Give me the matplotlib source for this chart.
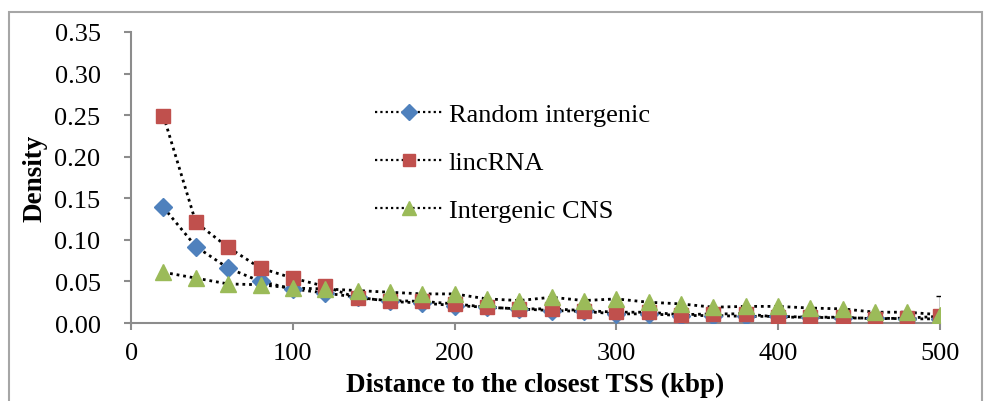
import numpy as np
import matplotlib.pyplot as plt
from matplotlib.patches import Rectangle

plt.rcParams['font.family'] = ['Liberation Serif', 'DejaVu Serif']

# Distance to closest TSS (kbp)
distancia = [20, 40, 60, 80, 100, 120, 140, 160, 180, 200, 220, 240, 260,
             280, 300, 320, 340, 360, 380, 400, 420, 440, 460, 480, 500]

random_intergenic = [0.139, 0.092, 0.066, 0.050, 0.041, 0.036, 0.031, 0.026, 0.024,
                     0.021, 0.019, 0.017, 0.015, 0.014, 0.011, 0.011, 0.009, 0.009,
                     0.008, 0.008, 0.007, 0.006, 0.006, 0.005, 0.005]
random_erro = [0.003, 0.003, 0.003, 0.002, 0.002, 0.002, 0.002, 0.002, 0.002,
               0.002, 0.002, 0.002, 0.002, 0.002, 0.002, 0.002, 0.002, 0.002,
               0.002, 0.002, 0.002, 0.002, 0.002, 0.002, 0.027]

lincrna = [0.249, 0.121, 0.091, 0.066, 0.054, 0.044, 0.030, 0.027, 0.026,
           0.023, 0.019, 0.017, 0.017, 0.015, 0.013, 0.013, 0.010, 0.011,
           0.011, 0.007, 0.007, 0.007, 0.005, 0.006, 0.008]

cns = [0.061, 0.054, 0.047, 0.046, 0.042, 0.041, 0.039, 0.037, 0.035,
       0.035, 0.029, 0.027, 0.031, 0.027, 0.029, 0.025, 0.023, 0.019,
       0.020, 0.020, 0.018, 0.017, 0.013, 0.013, 0.010]

series = [
    ('Random intergenic', random_intergenic, 'D', '#4F81BD', 9),
    ('lincRNA', lincrna, 's', '#C0504D', 10),
    ('Intergenic CNS', cns, '^', '#9BBB59', 11),
]

fig = plt.figure(figsize=(9.86, 4.02), dpi=100)
ax = fig.add_axes([0.133, 0.194, 0.820, 0.724])

# moldura da figura
fig.patches.append(Rectangle((0.009, -0.1), 0.987, 1.067, transform=fig.transFigure,
                             fill=False, edgecolor='#A6A6A6', lw=1.5, zorder=0))

pontilhado = (0, (1, 1.4))
handles = []
for nome, valores, marcador, cor, ms in series:
    ax.plot(distancia, valores, color='black', ls=pontilhado, lw=2, zorder=2)
    if nome == 'Random intergenic':
        ax.errorbar(distancia, valores, yerr=random_erro, fmt='none', ecolor='black',
                    elinewidth=1, capsize=3, capthick=1, zorder=3)
    ax.plot(distancia, valores, ls='none', marker=marcador, ms=ms, color=cor,
            markeredgecolor=cor, zorder=4)
    h, = ax.plot([], [], color='black', ls=pontilhado, lw=1.6, marker=marcador,
                 ms=ms - 1, markerfacecolor=cor, markeredgecolor=cor)
    handles.append((h, nome))

ax.set_xlim(0, 500)
ax.set_ylim(0, 0.35)
ax.set_xticks(np.arange(0, 501, 100))
ax.set_yticks(np.arange(0, 0.351, 0.05))
ax.set_yticklabels([f'{v:.2f}' for v in np.arange(0, 0.351, 0.05)])

for lado in ['top', 'right']:
    ax.spines[lado].set_visible(False)
for lado in ['left', 'bottom']:
    ax.spines[lado].set_color('#8C8C8C')
    ax.spines[lado].set_linewidth(1.5)

ax.tick_params(axis='y', direction='out', length=5, width=1.5, color='#8C8C8C',
               labelsize=19, pad=17)
ax.tick_params(axis='x', direction='out', length=5, width=1.5, color='#8C8C8C',
               labelsize=19, pad=9)

ax.set_xlabel('Distance to the closest TSS (kbp)', fontsize=19.5, fontweight='bold', labelpad=5)
ax.set_ylabel('Density', fontsize=19.5, fontweight='bold', labelpad=5)

ax.legend([h for h, _ in handles], [n for _, n in handles], loc='center left',
          bbox_to_anchor=(0.272, 0.552), frameon=False, fontsize=19,
          handlelength=2.6, handletextpad=0.2, labelspacing=0.93)

plt.savefig('out.png', dpi=100)
